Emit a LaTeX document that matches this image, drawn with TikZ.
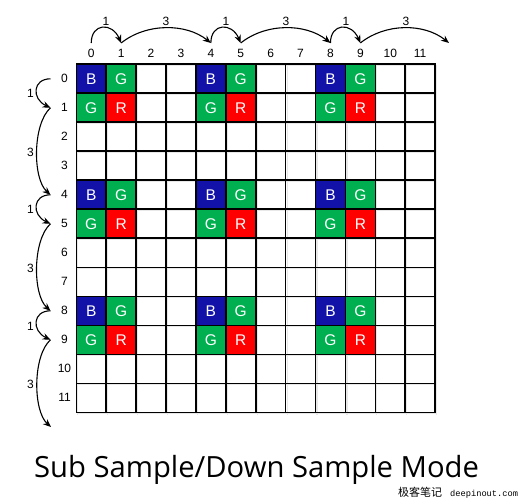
\documentclass[tikz,border=0pt]{standalone}
\usepackage{fontspec}
\setmainfont{Liberation Sans}
\newfontfamily\titlefont{Open Sans}
\newfontfamily\cjkfont{Noto Sans CJK SC}
\newfontfamily\wmono{Liberation Mono}
\usetikzlibrary{arrows.meta}
\definecolor{bblue}{RGB}{18,18,168}
\definecolor{bgreen}{RGB}{0,176,80}
\definecolor{bred}{RGB}{255,0,0}
\tikzset{
  gridline/.style={line width=1.6pt, black, line cap=rect},
  gridshadow/.style={line width=1.2pt, black!9, line cap=rect},
  cellbox/.style={minimum width=29.9pt, minimum height=29pt, inner sep=0pt, draw=none,
    text=white, font=\fontsize{15.5}{15.5}\selectfont},
  idxlabel/.style={inner sep=0pt, font=\fontsize{12}{12}\selectfont},
  steplabel/.style={inner sep=0pt, font=\fontsize{12}{12}\selectfont},
  jump/.style={line width=1.1pt, -{Stealth[length=8pt,width=6.5pt]}},
}
\begin{document}
\begin{tikzpicture}[x=1pt,y=-1pt]
\useasboundingbox[fill=white] (0,0) rectangle (520,500);
% shadow of grid
\foreach \i in {0,...,12} {
  \draw[gridshadow] ({77.8+29.9*\i},65.8) -- ({77.8+29.9*\i},414);
  \draw[gridshadow] (77.8,{65.8+29*\i}) -- (436.8,{65.8+29*\i});
}
% coloured cells
\foreach \bx in {0,4,8} {
  \foreach \by in {0,4,8} {
    \pgfmathsetmacro{\xa}{76.3+29.9*(\bx+0.5)}
    \pgfmathsetmacro{\xb}{76.3+29.9*(\bx+1.5)}
    \pgfmathsetmacro{\ya}{64.3+29*(\by+0.5)}
    \pgfmathsetmacro{\yb}{64.3+29*(\by+1.5)}
    \node[cellbox, fill=bblue]  (cB-\bx-\by) at (\xa,\ya) {B};
    \node[cellbox, fill=bgreen] (cG1-\bx-\by) at (\xb,\ya) {G};
    \node[cellbox, fill=bgreen] (cG2-\bx-\by) at (\xa,\yb) {G};
    \node[cellbox, fill=bred]   (cR-\bx-\by) at (\xb,\yb) {R};
  }
}
% grid
\foreach \i in {0,...,12} {
  \draw[gridline] ({76.3+29.9*\i},64.3) -- ({76.3+29.9*\i},412.3);
  \draw[gridline] (76.3,{64.3+29*\i}) -- (435.1,{64.3+29*\i});
}
% column and row indices
\foreach \i in {0,...,11} {
  \node[idxlabel] (col\i) at ({76.3+29.9*(\i+0.5)},53) {\i};
  \node[idxlabel] (row\i) at (64.5,{64.3+29*(\i+0.5)}) {\i};
}
% top jump anchors
\foreach \i in {0,1,4,5,8,9} {
  \coordinate (t\i) at ({76.3+29.9*(\i+0.5)},43);
  \coordinate (l\i) at (50.5,{64.3+29*(\i+0.5)});
}
\coordinate (t12) at (449,43);
\coordinate (l12) at (51,427);
% top jumps
\draw[jump] (t0) .. controls +(0,-20) and +(-9,-21) .. (t1);
\draw[jump] (t1) .. controls +(25,-20) and +(-25,-20) .. (t4);
\draw[jump] (t4) .. controls +(0,-20) and +(-9,-21) .. (t5);
\draw[jump] (t5) .. controls +(25,-20) and +(-25,-20) .. (t8);
\draw[jump] (t8) .. controls +(0,-20) and +(-9,-21) .. (t9);
\draw[jump] (t9) .. controls +(25,-20) and +(-25,-20) .. (t12);
\node[steplabel] (s1) at (106,21) {1};
\node[steplabel] (s2) at (166,21) {3};
\node[steplabel] (s3) at (226,21) {1};
\node[steplabel] (s4) at (286,21) {3};
\node[steplabel] (s5) at (346,21) {1};
\node[steplabel] (s6) at (406,21) {3};
% left jumps
\draw[jump] (l0) .. controls +(-18,0) and +(-19,-9) .. (l1);
\draw[jump] (l1) .. controls +(-18,16) and +(-18,-16) .. (l4);
\draw[jump] (l4) .. controls +(-18,0) and +(-19,-9) .. (l5);
\draw[jump] (l5) .. controls +(-18,16) and +(-18,-16) .. (l8);
\draw[jump] (l8) .. controls +(-18,0) and +(-19,-9) .. (l9);
\draw[jump] (l9) .. controls +(-18,16) and +(-18,-16) .. (l12);
\node[steplabel] (v1) at (30.5,93.5) {1};
\node[steplabel] (v2) at (30.5,152) {3};
\node[steplabel] (v3) at (30.5,209.5) {1};
\node[steplabel] (v4) at (30.5,268) {3};
\node[steplabel] (v5) at (30.5,326) {1};
\node[steplabel] (v6) at (30.5,384) {3};
% title
\node[anchor=base west, inner sep=0pt, font=\titlefont\fontsize{29.2}{29.2}\selectfont] (title) at (34,477) {Sub Sample/Down Sample Mode};
% watermark
\node[anchor=base west, inner sep=0pt, font=\cjkfont\fontsize{11}{11}\selectfont] (wm1) at (398,496) {极客笔记};
\node[anchor=base west, inner sep=0pt, font=\wmono\fontsize{8.7}{8.7}\selectfont] (wm2) at (450,496) {deepinout.com};
\end{tikzpicture}
\end{document}
